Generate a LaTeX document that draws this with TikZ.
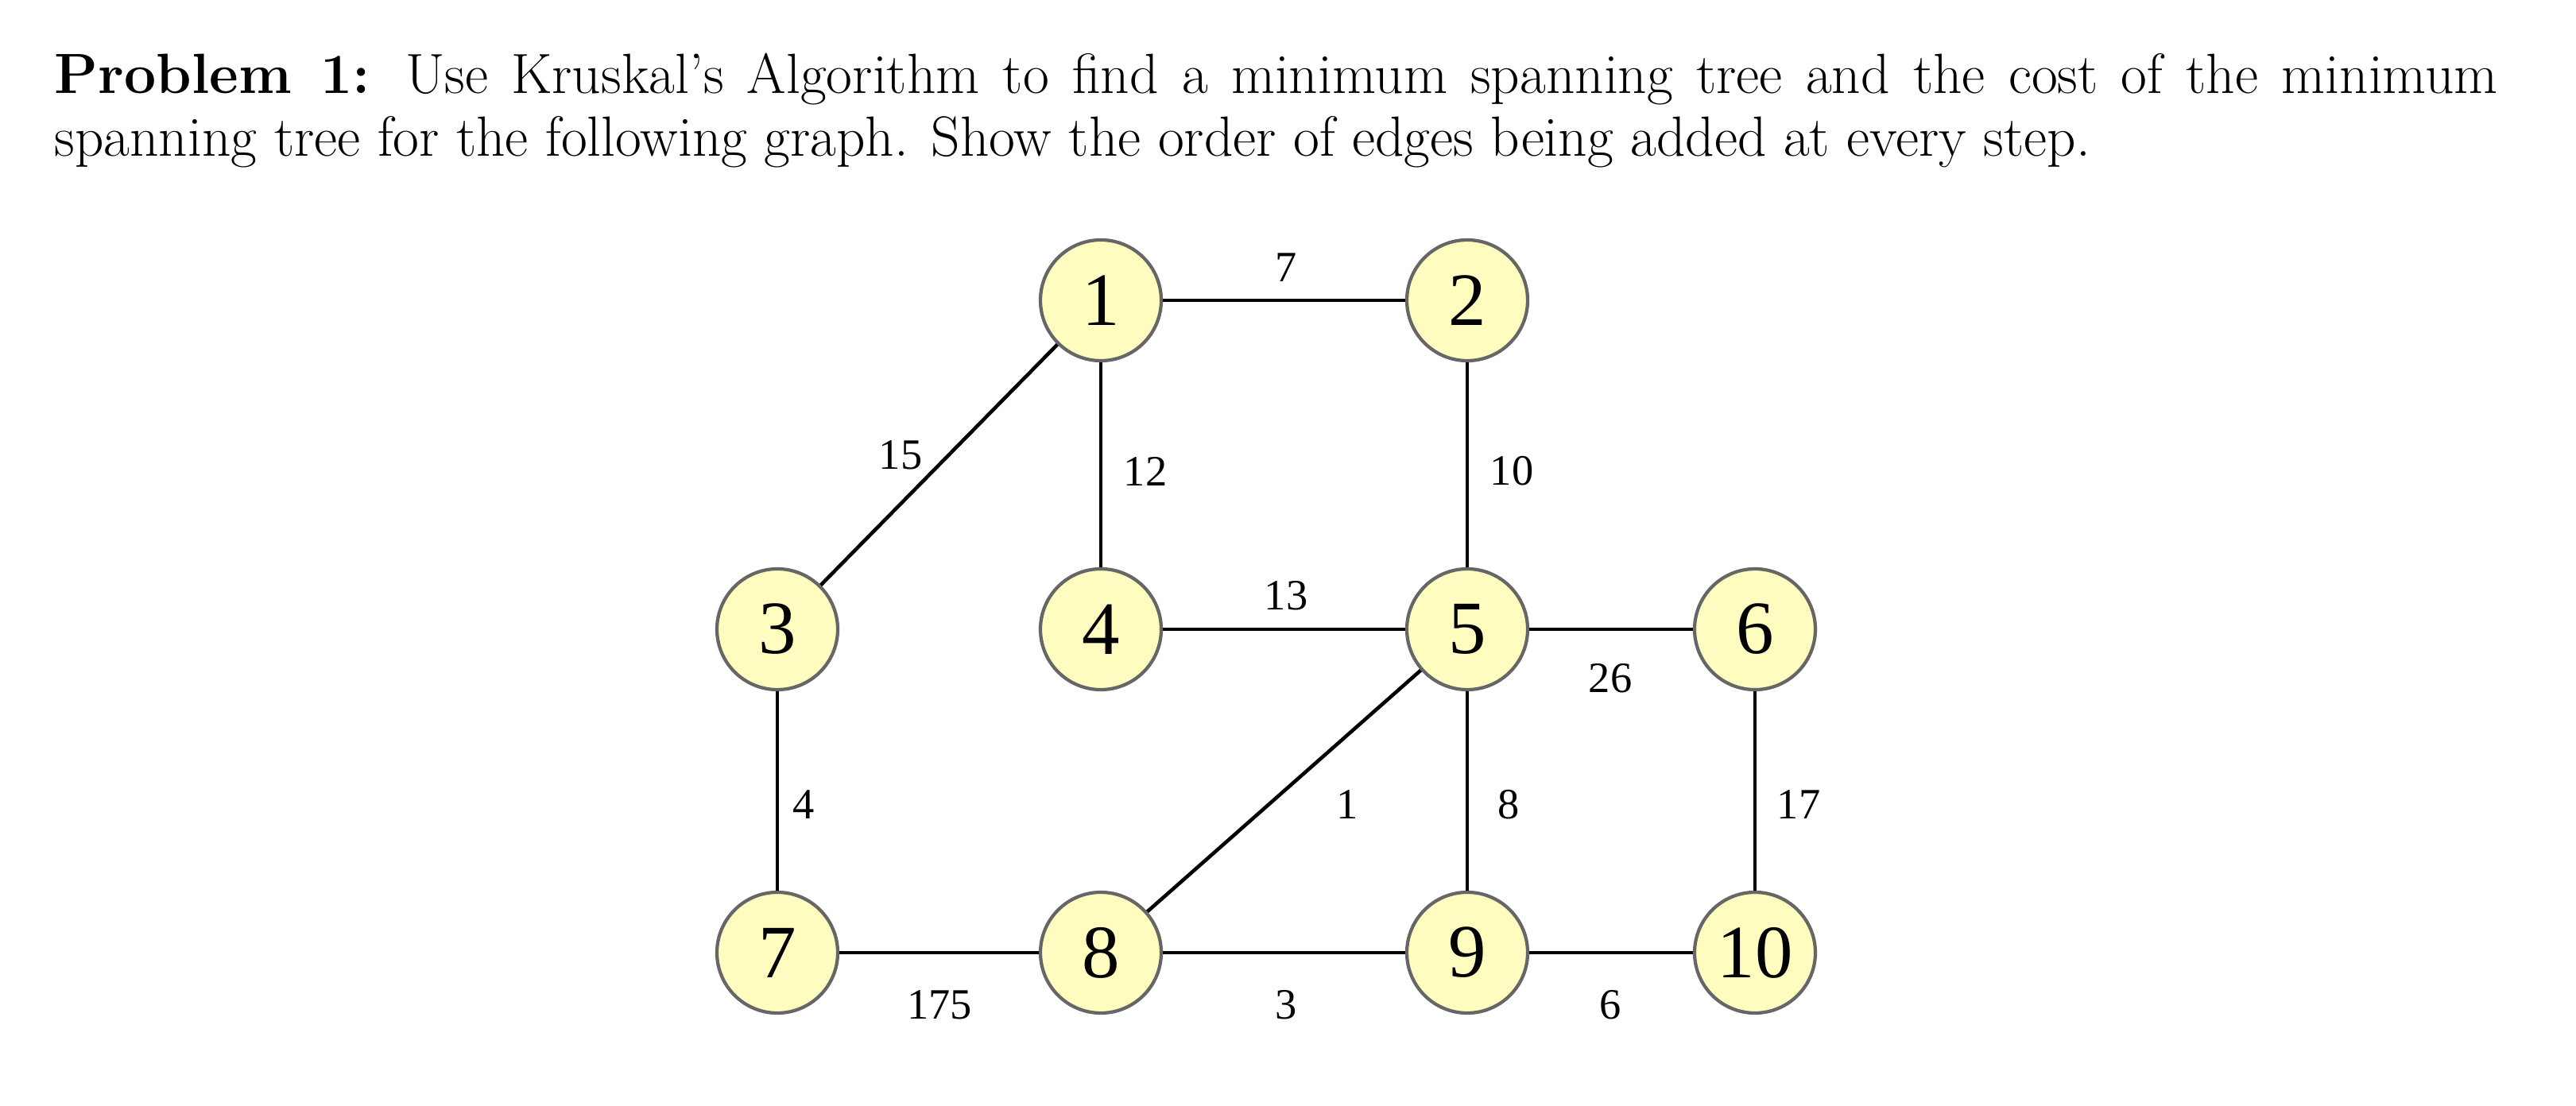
\documentclass[tikz,border=0pt]{standalone}
\usepackage{fontspec}
\newfontfamily\tms{Liberation Serif}
\begin{document}
\begin{tikzpicture}[x=1cm,y=1cm,
  vert/.style={circle,draw=gray!80!black,fill=yellow!25,line width=1.2pt,minimum size=1.52cm,inner sep=0pt,font=\tms\fontsize{27}{27}\selectfont},
  lab/.style={font=\tms\fontsize{15.5}{16}\selectfont},
  edge/.style={line width=1.3pt}]
\useasboundingbox (0,0) rectangle (32.41,13.91);
\node[anchor=north west,text width=30.74cm,align=justify,inner sep=0pt,font=\fontsize{20.3}{22.5}\selectfont] (t) at (0.68,13.25)
{\textbf{Problem 1:} Use Kruskal's Algorithm to find a minimum spanning tree and the cost of the minimum spanning tree for the following graph. Show the order of edges being added at every step.};
\node[vert] (n1) at (13.85,10.13) {1};
\node[vert] (n2) at (18.46,10.13) {2};
\node[vert] (n3) at (9.78,5.99) {3};
\node[vert] (n4) at (13.85,5.99) {4};
\node[vert] (n5) at (18.46,5.99) {5};
\node[vert] (n6) at (22.08,5.99) {6};
\node[vert] (n7) at (9.78,1.92) {7};
\node[vert] (n8) at (13.85,1.92) {8};
\node[vert] (n9) at (18.46,1.92) {9};
\node[vert] (n10) at (22.08,1.92) {10};
\draw[edge] (n1)--(n2); \draw[edge] (n1)--(n3); \draw[edge] (n1)--(n4);
\draw[edge] (n2)--(n5); \draw[edge] (n4)--(n5); \draw[edge] (n5)--(n6);
\draw[edge] (n3)--(n7); \draw[edge] (n5)--(n8); \draw[edge] (n5)--(n9);
\draw[edge] (n6)--(n10); \draw[edge] (n7)--(n8); \draw[edge] (n8)--(n9);
\draw[edge] (n9)--(n10);
\node[lab] (l7) at (16.18,10.54) {7};
\node[lab] (l15) at (11.33,8.18) {15};
\node[lab] (l12) at (14.41,7.98) {12};
\node[lab] (l10) at (19.02,7.98) {10};
\node[lab] (l13) at (16.18,6.41) {13};
\node[lab] (l26) at (20.26,5.37) {26};
\node[lab] (l4) at (10.11,3.78) {4};
\node[lab] (l1) at (16.95,3.78) {1};
\node[lab] (l8) at (18.98,3.78) {8};
\node[lab] (l17) at (22.63,3.78) {17};
\node[lab] (l175) at (11.82,1.26) {175};
\node[lab] (l3) at (16.18,1.26) {3};
\node[lab] (l6) at (20.26,1.26) {6};
\end{tikzpicture}
\end{document}
